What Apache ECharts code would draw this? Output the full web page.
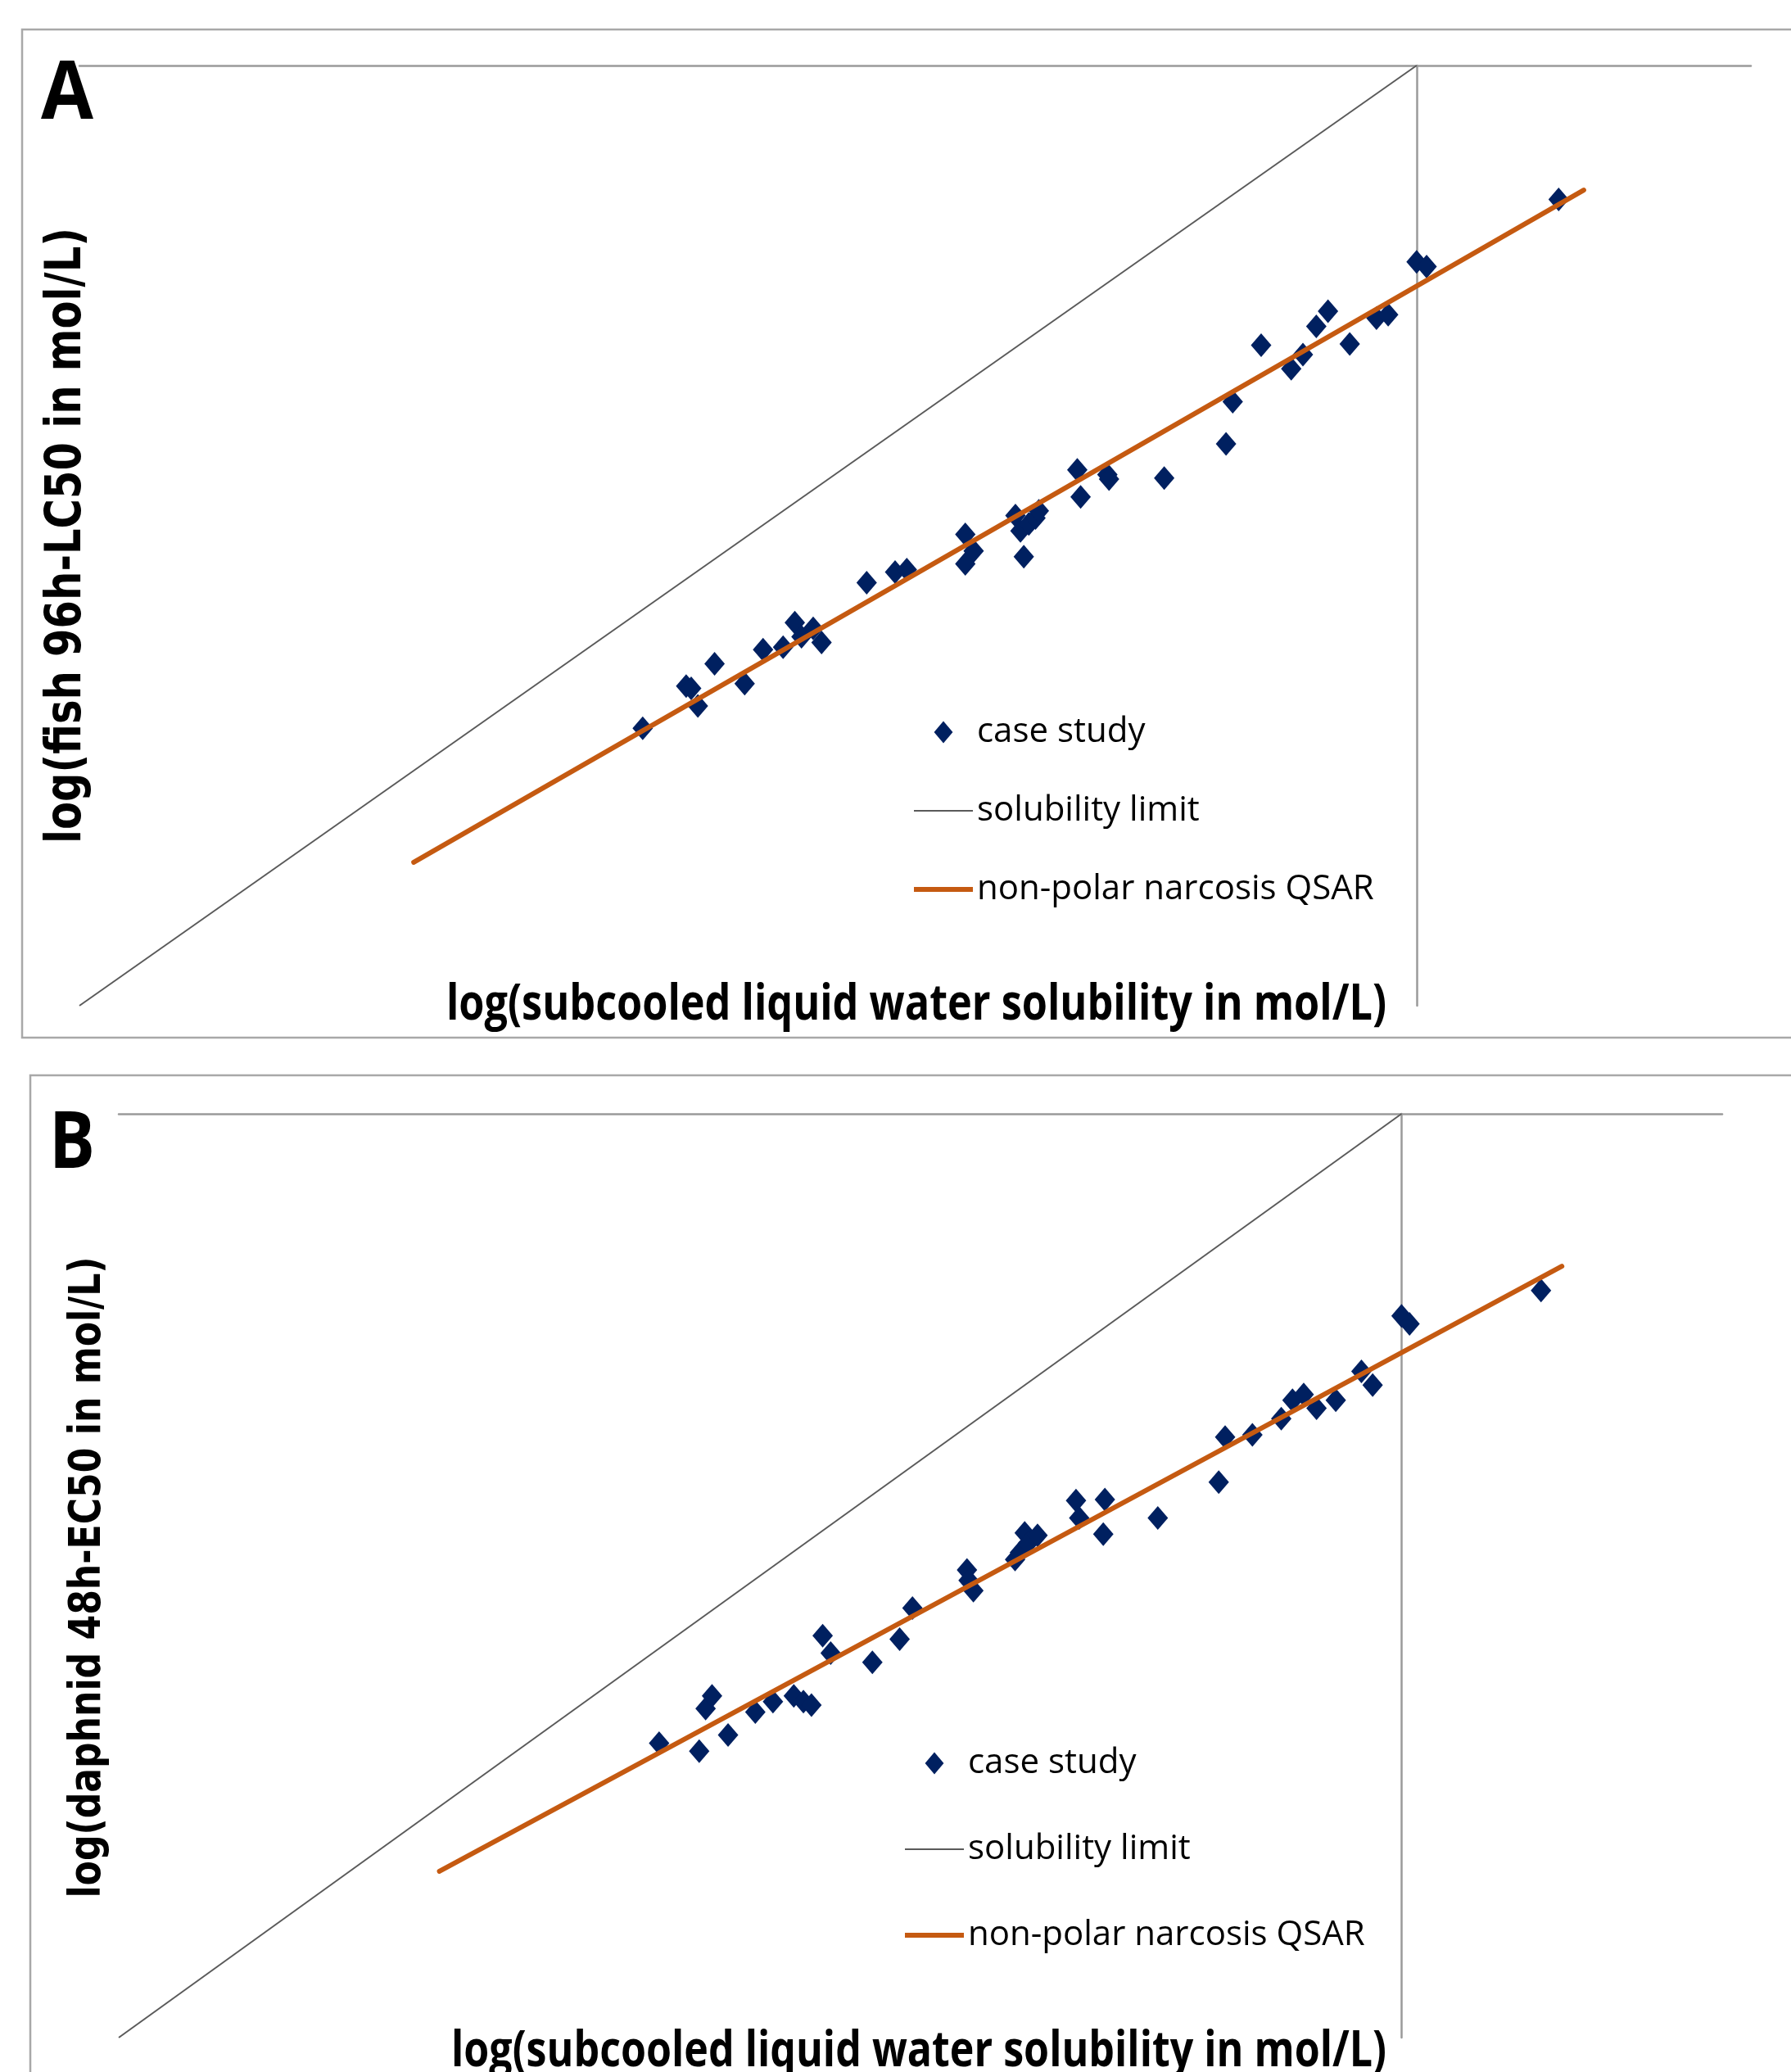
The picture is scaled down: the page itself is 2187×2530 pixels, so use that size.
<!DOCTYPE html>
<html>
<head>
<meta charset="utf-8">
<title>Toxicity vs subcooled liquid water solubility</title>
<script src="https://cdn.jsdelivr.net/npm/echarts@6/dist/echarts.min.js"></script>
<style>
  html, body { margin: 0; padding: 0; background: #fff; }
  #chart { width: 2187px; height: 2530px; }
</style>
</head>
<body>
<div id="chart"></div>
<script>
// axis ranges (no tick labels are shown in the original)
var xRange = [-8, 2];
var yRange = [-8, 0];

// panel A: fish 96h-LC50 (case study points)
var fishX = [-4.63, -4.37, -4.34, -4.30, -4.20, -4.02, -3.91, -3.79, -3.72, -3.68, -3.61, -3.56,
  -3.29, -3.12, -3.05, -2.70, -2.65, -2.70, -2.40, -2.37, -2.32, -2.28, -2.26, -2.35,
  -2.03, -2.01, -1.85, -1.84, -1.51, -1.14, -1.10, -0.93, -0.75, -0.68, -0.60, -0.53,
  -0.40, -0.24, -0.17, 0.00, 0.06, 0.85];
var fishY = [-5.64, -5.28, -5.30, -5.45, -5.09, -5.26, -4.97, -4.95, -4.74, -4.86, -4.79, -4.91,
  -4.40, -4.31, -4.29, -3.99, -4.13, -4.24, -3.83, -3.96, -3.90, -3.85, -3.79, -4.18,
  -3.44, -3.67, -3.48, -3.52, -3.51, -3.22, -2.86, -2.38, -2.58, -2.46, -2.22, -2.09,
  -2.37, -2.15, -2.12, -1.67, -1.71, -1.14];

// panel B: daphnid 48h-EC50 (case study points)
var daphX = [-4.63, -4.38, -4.34, -4.30, -4.20, -4.03, -3.92, -3.79, -3.73, -3.68, -3.61, -3.56,
  -3.30, -3.13, -3.05, -2.71, -2.70, -2.67, -2.41, -2.38, -2.35, -2.33, -2.27, -2.03,
  -2.01, -1.85, -1.86, -1.52, -1.14, -1.10, -0.93, -0.75, -0.68, -0.61, -0.53, -0.41,
  -0.25, -0.18, 0.00, 0.05, 0.87];
var daphY = [-5.45, -5.52, -5.15, -5.04, -5.38, -5.18, -5.09, -5.04, -5.09, -5.12, -4.52, -4.67,
  -4.75, -4.55, -4.28, -3.95, -4.04, -4.13, -3.86, -3.80, -3.63, -3.72, -3.65, -3.35,
  -3.50, -3.34, -3.64, -3.50, -3.19, -2.80, -2.78, -2.64, -2.48, -2.43, -2.55, -2.48,
  -2.23, -2.35, -1.75, -1.82, -1.53];

// solubility limit (1:1 line) and QSAR line end points
var limitX = [-8, 0];
var limitY = [-8, 0];
var qsarFishX = [-6.0, 1.0];
var qsarFishY = [-6.78, -1.06];
var qsarDaphX = [-6.0, 1.0];
var qsarDaphY = [-6.56, -1.32];

var names = ['case study', 'solubility limit', 'non-polar narcosis QSAR'];

function zip(xs, ys) {
  return xs.map(function (x, i) { return [x, ys[i]]; });
}

var navy = '#002060';
var orange = '#C55A11';
var limitGray = '#5a5a5a';
var axisGray = '#9a9a9a';

// measure text so titles can be squeezed to the original width
var ctx = document.createElement('canvas').getContext('2d');
function textW(txt, font) {
  ctx.font = font;
  return ctx.measureText(txt).width;
}
function titleText(txt, font, cx, cy, targetW, rot) {
  return {
    type: 'text', x: cx, y: cy, rotation: rot || 0,
    scaleX: targetW / textW(txt, font),
    silent: true,
    style: {
      text: txt, font: font, fill: '#000',
      align: 'center', verticalAlign: 'middle',
      textAlign: 'center', textVerticalAlign: 'middle'
    }
  };
}

function axisPair(idx) {
  return {
    x: {
      type: 'value', gridIndex: idx, min: xRange[0], max: xRange[1],
      axisLine: { show: true, onZero: true, lineStyle: { color: axisGray, width: 2.5 } },
      axisTick: { show: false }, axisLabel: { show: false }, splitLine: { show: false }
    },
    y: {
      type: 'value', gridIndex: idx, min: yRange[0], max: yRange[1],
      axisLine: { show: true, onZero: true, lineStyle: { color: axisGray, width: 2.5 } },
      axisTick: { show: false }, axisLabel: { show: false }, splitLine: { show: false }
    }
  };
}
var axA = axisPair(0), axB = axisPair(1);

function panelSeries(idx, pts, qx, qy) {
  return [{
    name: names[0], type: 'scatter', xAxisIndex: idx, yAxisIndex: idx,
    symbol: 'diamond', symbolSize: [25, 29], z: 2,
    itemStyle: { color: navy, opacity: 1 },
    data: pts
  }, {
    name: names[1], type: 'line', xAxisIndex: idx, yAxisIndex: idx,
    symbol: 'none', z: 3,
    lineStyle: { color: limitGray, width: 2 }, itemStyle: { color: limitGray },
    data: zip(limitX, limitY)
  }, {
    name: names[2], type: 'line', xAxisIndex: idx, yAxisIndex: idx,
    symbol: 'none', z: 4,
    lineStyle: { color: orange, width: 6, cap: 'round' }, itemStyle: { color: orange },
    data: zip(qx, qy)
  }];
}

function panelLegend(left, top, gap) {
  return {
    orient: 'vertical', left: left, top: top, padding: 0,
    itemWidth: 72, itemHeight: 27, itemGap: gap,
    selectedMode: false,
    textStyle: { fontFamily: 'Open Sans', fontSize: 42, color: '#000' },
    data: [
      { name: names[0], icon: 'path://M11,0L22,13L11,26L0,13Z' },
      { name: names[1], icon: 'path://M0,0L72,0L72,2L0,2Z', itemStyle: { color: limitGray } },
      { name: names[2], icon: 'path://M0,0L72,0L72,6L0,6Z', itemStyle: { color: orange } }
    ]
  };
}

var xTitle = 'log(subcooled liquid water solubility in mol/L)';

var option = {
  backgroundColor: '#fff',
  animation: false,
  grid: [
    { left: 97, top: 80, width: 2041, height: 1148 },
    { left: 145, top: 1360, width: 1958, height: 1128 }
  ],
  xAxis: [axA.x, axB.x],
  yAxis: [axA.y, axB.y],
  legend: [panelLegend(1116, 873, 54), panelLegend(1105, 2132, 63)],
  series: panelSeries(0, zip(fishX, fishY), qsarFishX, qsarFishY)
    .concat(panelSeries(1, zip(daphX, daphY), qsarDaphX, qsarDaphY)),
  graphic: [
    { type: 'rect', silent: true, z: -1, shape: { x: 27, y: 36, width: 2400, height: 1231 },
      style: { fill: 'none', stroke: '#a8a8a8', lineWidth: 2.5 } },
    { type: 'rect', silent: true, z: -1, shape: { x: 37, y: 1313, width: 2400, height: 1400 },
      style: { fill: 'none', stroke: '#a8a8a8', lineWidth: 2.5 } },
    titleText('A', 'bold 98px "Open Sans"', 82, 117, 64),
    titleText('B', 'bold 96px "Open Sans"', 88, 1399, 56),
    titleText(xTitle, 'bold 60px "Open Sans"', 1119, 1228, 1148),
    titleText(xTitle, 'bold 60px "Open Sans"', 1122, 2506, 1142),
    titleText('log(fish 96h-LC50 in mol/L)', 'bold 60px "DejaVu Sans"', 82, 654, 752, Math.PI / 2),
    titleText('log(daphnid 48h-EC50 in mol/L)', 'bold 54px "DejaVu Sans"', 108, 1926, 783, Math.PI / 2)
  ]
};

var myChart = echarts.init(document.getElementById('chart'));
myChart.setOption(option);
</script>
</body>
</html>
